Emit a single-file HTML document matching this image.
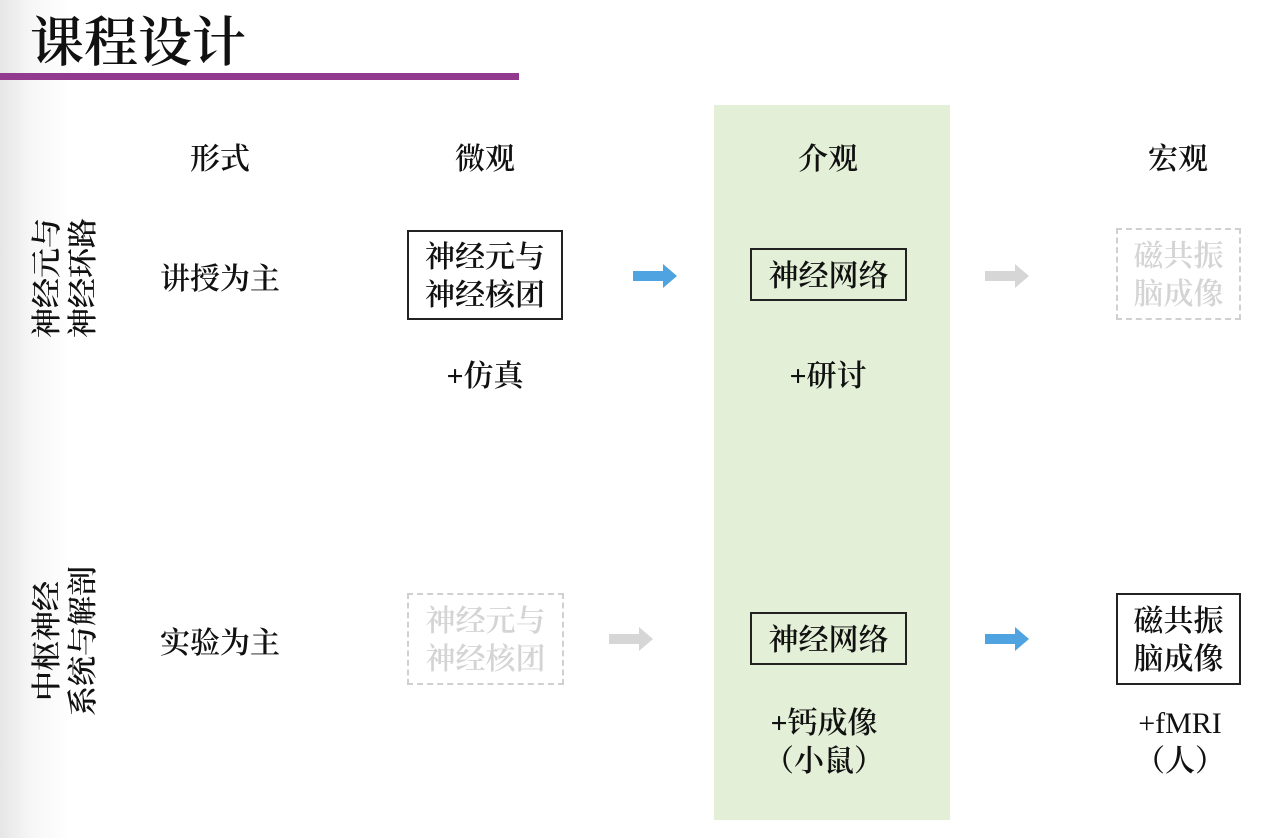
<!DOCTYPE html>
<html><head><meta charset="utf-8"><style>
html,body{margin:0;padding:0}
body{width:1269px;height:838px;position:relative;overflow:hidden;background:linear-gradient(to right,#e6e6e6 0px,#f6f6f6 30px,#fff 70px);font-family:"Liberation Serif","Noto Serif CJK SC",serif;color:#111;font-weight:600}
.a{position:absolute}
.t{position:absolute;transform:translate(-50%,-50%);white-space:nowrap;font-size:30px;line-height:38px;text-align:center}
.box{position:absolute;box-sizing:border-box;border:2px solid #222;display:flex;align-items:center;justify-content:center;text-align:center;font-size:30px;line-height:38px;padding-top:4px}
.dash{border:2px dashed #d0d0d0;color:#d4d4d4}
.arr{position:absolute;width:44px;height:24px}
.v{position:absolute;transform:translate(-50%,-50%) rotate(-90deg);font-size:30px;line-height:36px;white-space:nowrap;text-align:center}
.n{font-weight:normal}
</style></head><body>
<div class="a" style="left:30px;top:8px;font-size:54px;line-height:70px">课程设计</div>
<div class="a" style="left:0;top:73px;width:519px;height:7px;background:#923a8e"></div>
<div class="a" style="left:714px;top:105px;width:236px;height:715px;background:#e3f0d7"></div>

<div class="t" style="left:220px;top:160px">形式</div>
<div class="t" style="left:485px;top:160px">微观</div>
<div class="t" style="left:828px;top:160px">介观</div>
<div class="t" style="left:1178px;top:160px">宏观</div>

<div class="v" style="left:66px;top:278px">神经元与<br>神经环路</div>
<div class="v" style="left:66px;top:641px">中枢神经<br>系统与解剖</div>

<div class="t" style="left:220px;top:280px">讲授为主</div>
<div class="t" style="left:220px;top:644px">实验为主</div>

<div class="box" style="left:407px;top:230px;width:156px;height:90px">神经元与<br>神经核团</div>
<div class="box" style="left:750px;top:248px;width:157px;height:53px">神经网络</div>
<div class="box dash" style="left:1116px;top:228px;width:125px;height:92px">磁共振<br>脑成像</div>

<div class="box dash" style="left:407px;top:593px;width:157px;height:92px">神经元与<br>神经核团</div>
<div class="box" style="left:750px;top:612px;width:157px;height:53px">神经网络</div>
<div class="box" style="left:1116px;top:593px;width:125px;height:92px">磁共振<br>脑成像</div>

<svg class="arr" style="left:633px;top:264px" viewBox="0 0 44 24"><polygon points="0,7 30,7 30,0 44,12 30,24 30,17 0,17" fill="#4ea3e0"/></svg>
<svg class="arr" style="left:985px;top:264px" viewBox="0 0 44 24"><polygon points="0,7 30,7 30,0 44,12 30,24 30,17 0,17" fill="#d6d6d6"/></svg>
<svg class="arr" style="left:609px;top:627px" viewBox="0 0 44 24"><polygon points="0,7 30,7 30,0 44,12 30,24 30,17 0,17" fill="#d6d6d6"/></svg>
<svg class="arr" style="left:985px;top:627px" viewBox="0 0 44 24"><polygon points="0,7 30,7 30,0 44,12 30,24 30,17 0,17" fill="#4ea3e0"/></svg>

<div class="t" style="left:485px;top:377px">+仿真</div>
<div class="t" style="left:828px;top:377px">+研讨</div>
<div class="t" style="left:824px;top:743px">+钙成像<br>（小鼠）</div>
<div class="t" style="left:1180px;top:743px"><span class="n">+fMRI</span><br>（人）</div>
</body></html>
